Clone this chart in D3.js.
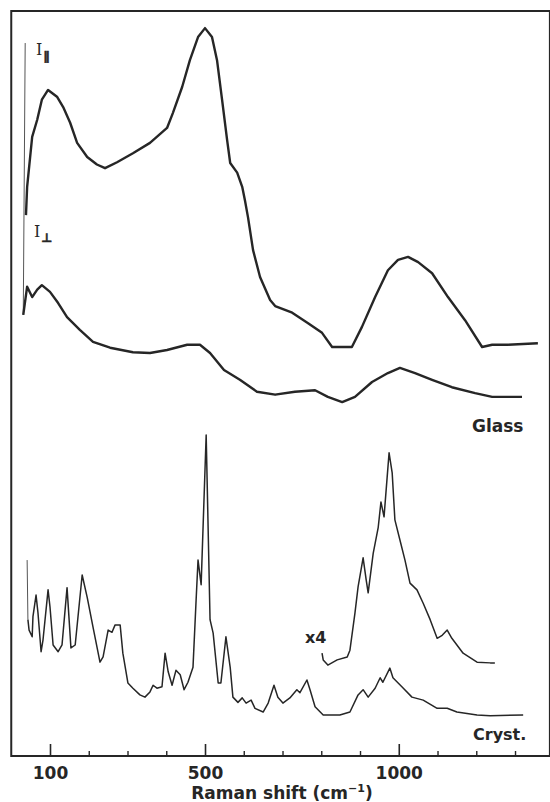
<!DOCTYPE html>
<html>
<head>
<meta charset="utf-8">
<script src="https://cdn.jsdelivr.net/npm/d3@7"></script>
<style>
  html, body { margin: 0; padding: 0; background: #ffffff; }
  svg { display: block; }
</style>
</head>
<body>
<svg id="chart" width="550" height="802"></svg>
<script>
// ---- data: Raman shift (cm^-1) and relative intensity (arbitrary units, stacked as in the figure)
const majorTicks = [100, 500, 1000];
const minorTicks = [200, 300, 400, 600, 700, 800, 900, 1100, 1200, 1300];

const glassRayleigh = [[36, 95.7], [31, 59.2]];
const crystRayleigh = [[41, 26.3], [43, 18.3]];

const glassPar = [
  [38, 72.6], [41, 76.4], [54, 83.1], [67, 85.4], [79, 88.1], [95, 89.4], [118, 88.5], [134, 87.1],
  [152, 85.0], [170, 82.3], [196, 80.4], [221, 79.4], [242, 78.9], [273, 79.7], [314, 80.9],
  [358, 82.3], [402, 84.3], [417, 86.3], [441, 89.8], [461, 93.4], [482, 96.5], [500, 97.7],
  [518, 96.5], [531, 93.4], [544, 88.1], [557, 82.7], [565, 79.6], [583, 78.3], [596, 76.4],
  [603, 74.6], [611, 72.3], [624, 67.9], [642, 64.3], [668, 61.2], [681, 60.4], [725, 59.5],
  [766, 58.1], [802, 56.8], [828, 54.9], [879, 54.9], [905, 57.6], [939, 61.6], [972, 65.2],
  [998, 66.6], [1024, 67.0], [1050, 66.3], [1086, 64.8], [1127, 61.6], [1171, 58.5],
  [1215, 54.9], [1241, 55.2], [1282, 55.2], [1359, 55.4]
];

const glassPerp = [
  [31, 59.2], [41, 63.0], [54, 61.6], [67, 62.6], [79, 63.2], [100, 62.3], [121, 60.8], [144, 58.9],
  [177, 57.2], [211, 55.6], [255, 54.8], [314, 54.2], [358, 54.1], [402, 54.5], [454, 55.2],
  [487, 55.2], [513, 54.1], [549, 51.8], [590, 50.5], [634, 48.9], [681, 48.5], [732, 48.9],
  [784, 49.1], [817, 48.2], [854, 47.5], [887, 48.2], [931, 50.2], [972, 51.4], [1003, 52.1],
  [1042, 51.4], [1086, 50.5], [1137, 49.5], [1197, 48.7], [1241, 48.2], [1282, 48.2], [1318, 48.2]
];

const cryst = [
  [43, 18.3], [46, 16.9], [54, 16.0], [56, 18.7], [64, 21.6], [69, 19.2], [77, 14.0], [82, 15.6],
  [95, 22.3], [100, 20.0], [108, 14.9], [121, 14.0], [131, 14.9], [144, 22.6], [154, 14.5],
  [165, 14.9], [183, 24.3], [196, 21.3], [211, 17.3], [229, 12.6], [237, 13.3], [250, 16.9],
  [260, 16.6], [268, 17.6], [281, 17.6], [288, 13.8], [301, 9.8], [314, 9.1], [332, 8.2],
  [345, 7.9], [358, 8.6], [366, 9.5], [376, 9.1], [389, 9.3], [397, 13.8], [405, 11.3],
  [415, 9.5], [425, 11.5], [436, 10.9], [446, 8.9], [456, 9.9], [469, 11.9], [477, 20.9],
  [482, 26.3], [490, 23.0], [503, 43.1], [513, 18.3], [521, 16.5], [534, 9.8], [541, 9.8],
  [554, 16.0], [565, 11.9], [572, 7.9], [585, 7.2], [596, 7.8], [606, 7.1], [619, 7.5],
  [629, 6.4], [650, 5.9], [663, 7.1], [678, 9.5], [688, 7.9], [701, 7.1], [719, 7.8],
  [737, 8.9], [745, 8.5], [763, 10.2], [771, 8.9], [784, 6.6], [805, 5.5], [848, 5.5],
  [874, 5.9], [895, 8.2], [908, 8.9], [921, 7.9], [939, 9.1], [952, 10.5], [959, 9.9],
  [977, 11.8], [985, 10.5], [1008, 9.3], [1034, 7.9], [1063, 7.5], [1099, 6.4], [1125, 6.4],
  [1150, 5.9], [1202, 5.5], [1236, 5.4], [1321, 5.5]
];

const crystX4 = [
  [802, 13.8], [805, 12.9], [817, 12.2], [841, 12.9], [867, 13.3], [874, 14.2], [887, 19.2],
  [895, 22.7], [908, 26.6], [916, 23.6], [921, 21.9], [934, 27.2], [947, 30.7], [954, 34.1],
  [962, 32.1], [970, 37.4], [975, 40.7], [983, 38.0], [990, 31.7], [1003, 29.0], [1016, 26.3],
  [1029, 23.2], [1047, 22.3], [1063, 20.5], [1081, 18.3], [1099, 15.8], [1112, 16.2],
  [1125, 16.9], [1137, 15.8], [1166, 13.8], [1202, 12.6], [1236, 12.5], [1248, 12.5]
];

// ---- drawing
const svg = d3.select("#chart");
const x = d3.scaleLinear().domain([0, 1390]).range([11.25, 549.9]);
const y = d3.scaleLinear().domain([0, 100]).range([756, 11]);
const ink = "#262626";
const font = "'DejaVu Sans', sans-serif";

const line = d3.line().x(d => x(d[0])).y(d => y(d[1]));

// frame
svg.append("rect")
  .attr("x", x(0)).attr("y", y(100))
  .attr("width", x(1390) - x(0)).attr("height", y(0) - y(100))
  .attr("fill", "none").attr("stroke", ink).attr("stroke-width", 2);

// axis ticks (inward)
const gMaj = svg.append("g").attr("transform", `translate(0,${y(0)})`)
  .call(d3.axisBottom(x).tickValues(majorTicks).tickSize(-12).tickSizeOuter(0)
        .tickPadding(11).tickFormat(d3.format("d")));
gMaj.select(".domain").remove();
gMaj.selectAll("line").attr("stroke", ink).attr("stroke-width", 1.6);
gMaj.selectAll("text").attr("font-family", font).attr("font-size", 17)
  .attr("font-weight", "bold").attr("fill", ink);

const gMin = svg.append("g").attr("transform", `translate(0,${y(0)})`)
  .call(d3.axisBottom(x).tickValues(minorTicks).tickSize(-5).tickSizeOuter(0).tickFormat(""));
gMin.select(".domain").remove();
gMin.selectAll("line").attr("stroke", ink).attr("stroke-width", 1.4);

// axis title
const title = svg.append("text")
  .attr("x", 282).attr("y", 799).attr("text-anchor", "middle")
  .attr("font-family", font).attr("font-size", 17).attr("font-weight", "bold").attr("fill", ink);
title.append("tspan").text("Raman shift (cm");
title.append("tspan").text("−1").attr("font-size", 11).attr("dy", -7);
title.append("tspan").text(")").attr("dy", 7);

// spectra
svg.append("path").datum(glassRayleigh).attr("d", line)
  .attr("fill", "none").attr("stroke", "#555").attr("stroke-width", 1);
svg.append("path").datum(crystRayleigh).attr("d", line)
  .attr("fill", "none").attr("stroke", "#555").attr("stroke-width", 1);

[glassPar, glassPerp].forEach(s => {
  svg.append("path").datum(s).attr("d", line)
    .attr("fill", "none").attr("stroke", ink).attr("stroke-width", 2.4)
    .attr("stroke-linejoin", "round");
});
[cryst, crystX4].forEach(s => {
  svg.append("path").datum(s).attr("d", line)
    .attr("fill", "none").attr("stroke", ink).attr("stroke-width", 1.5)
    .attr("stroke-linejoin", "round");
});

// labels
function polLabel(xp, yp, sub) {
  const t = svg.append("text").attr("x", xp).attr("y", yp)
    .attr("font-family", "'DejaVu Serif', serif").attr("font-size", 16).attr("fill", ink);
  t.append("tspan").text("I");
  t.append("tspan").text(sub).attr("font-family", "'DejaVu Sans', sans-serif")
    .attr("font-weight", "bold").attr("font-size", 12).attr("dy", 5).attr("dx", 1)
    .attr("fill", ink).attr("stroke", ink).attr("stroke-width", 0.6);
}
polLabel(36, 55, "∥");
polLabel(34, 237, "⊥");

svg.append("text").attr("x", 472).attr("y", 432).text("Glass")
  .attr("font-family", font).attr("font-size", 17).attr("font-weight", "bold").attr("fill", ink);
svg.append("text").attr("x", 473).attr("y", 740).text("Cryst.")
  .attr("font-family", font).attr("font-size", 16).attr("font-weight", "bold").attr("fill", ink);
svg.append("text").attr("x", 305).attr("y", 643).text("x4")
  .attr("font-family", font).attr("font-size", 16).attr("font-weight", "bold").attr("fill", ink);
</script>
</body>
</html>
